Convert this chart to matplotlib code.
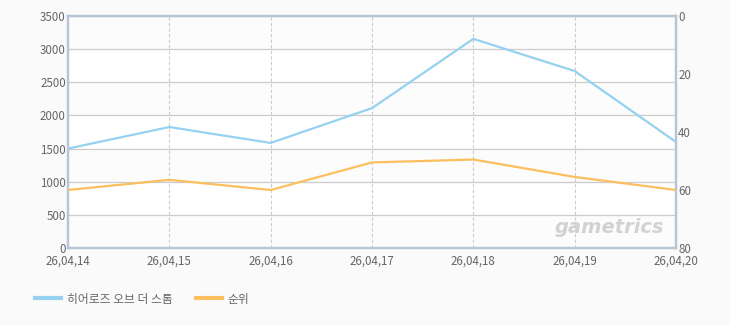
import matplotlib
matplotlib.use('Agg')
import matplotlib.pyplot as plt
from matplotlib.lines import Line2D

plt.rcParams['font.family'] = ['Noto Sans CJK KR', 'DejaVu Sans']

dates = ['26,04,14', '26,04,15', '26,04,16', '26,04,17', '26,04,18', '26,04,19', '26,04,20']
users = [1500, 1825, 1585, 2110, 3155, 2670, 1600]
rank = [60, 56.5, 60, 50.5, 49.5, 55.5, 60]

blue = '#95d1f0'
orange = '#fcbf5e'
spine = '#b4c6d8'
txt = '#666666'

fig = plt.figure(figsize=(7.3, 3.25), dpi=100)
fig.patch.set_facecolor('#fafafa')
ax = fig.add_axes([68 / 730, 77 / 325, 608 / 730, 232 / 325])
ax.set_facecolor('white')

x = list(range(len(dates)))
# light alternating bands
for i in range(0, 3500, 1000):
    ax.axhspan(i, i + 500, color='#fcfcfc', zorder=0)
ax.axhspan(3000, 3500, color='#fcfcfc', zorder=0)

ax.plot(x, users, color=blue, lw=1.6, zorder=3)
ax.set_xlim(0, len(dates) - 1)
ax.set_ylim(0, 3500)
ax.set_yticks(range(0, 3501, 500))
ax.set_xticks(x)
ax.set_xticklabels(dates)
ax.grid(axis='y', color='#cccccc', lw=0.9)
for xi in x[1:-1]:
    ax.axvline(xi, color='#cccccc', lw=0.8, ls=(0, (3, 2)), zorder=1)

ax2 = ax.twinx()
ax2.plot(x, rank, color=orange, lw=1.6, zorder=3)
ax2.set_ylim(80, 0)
ax2.set_yticks(range(0, 81, 20))

for a in (ax, ax2):
    for s in a.spines.values():
        s.set_color(spine)
        s.set_linewidth(1.6)
    a.tick_params(length=0, labelsize=8.3, colors=txt, pad=1.5)
ax.tick_params(axis='x', pad=5)

ax.text(0.98, 0.09, 'gametrics', transform=ax.transAxes, ha='right', va='center',
        fontsize=14, color='#d2d2d2', style='italic', fontweight='bold',
        family='DejaVu Sans', zorder=2)

handles = [Line2D([], [], color=blue, lw=3), Line2D([], [], color=orange, lw=3)]
fig.legend(handles, ['히어로즈 오브 더 스톰', '순위'], loc='center left',
           bbox_to_anchor=(0.033, 0.08), ncol=2, frameon=False, fontsize=8.5,
           labelcolor=txt, handlelength=2.2, columnspacing=2.0, handletextpad=0.5)

fig.savefig('out.png', dpi=100, facecolor=fig.get_facecolor())
